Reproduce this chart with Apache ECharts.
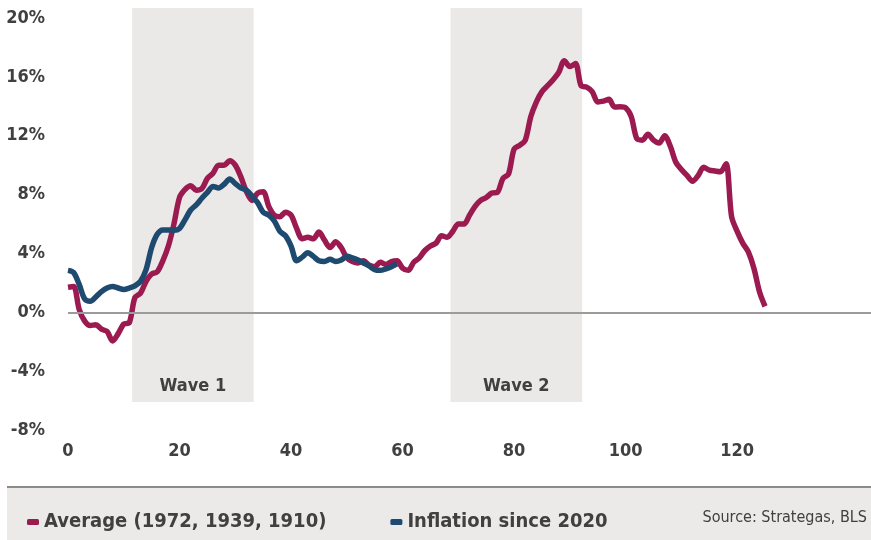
<!DOCTYPE html>
<html>
<head>
<meta charset="utf-8">
<script src="https://cdn.jsdelivr.net/npm/echarts@6/dist/echarts.min.js"></script>
<style>
  html, body { margin: 0; padding: 0; background: #fff; }
  #chart { width: 871px; height: 540px; }
</style>
</head>
<body>
<div id="chart"></div>
<script>
// months since start of the inflation wave
var avgX = [0,1,2,3,4,5,6,7,8,9,10,11,12,13,14,15,16,17,18,19,20,21,22,23,24,25,26,27,28,29,30,31,32,33,34,35,36,37,38,39,40,41,42,43,44,45,46,47,48,49,50,51,52,53,54,55,56,57,58,59,60,61,62,63,64,65,66,67,68,69,70,71,72,73,74,75,76,77,78,79,80,81,82,83,84,85,86,87,88,89,90,91,92,93,94,95,96,97,98,99,100,101,102,103,104,105,106,107,108,109,110,111,112,113,114,115,116,117,118,119,120,121,122,123,124,125];
var avgY = [1.7,1.75,0.2,-0.6,-0.9,-0.85,-1.15,-1.3,-1.95,-1.45,-0.8,-0.7,1.0,1.3,2.1,2.6,2.75,3.5,4.5,6.0,7.8,8.35,8.6,8.3,8.4,9.1,9.45,10.0,10.0,10.3,10.0,9.2,8.2,7.6,8.1,8.2,7.2,6.6,6.5,6.8,6.6,5.7,5.0,5.1,5.0,5.45,4.9,4.4,4.8,4.4,3.7,3.45,3.35,3.5,3.2,3.1,3.4,3.25,3.45,3.5,3.0,2.85,3.4,3.7,4.2,4.5,4.7,5.2,5.1,5.5,6.0,6.0,6.6,7.2,7.6,7.8,8.1,8.15,9.1,9.4,11.1,11.35,11.7,13.3,14.3,15.0,15.4,15.8,16.3,17.1,16.7,16.9,15.4,15.3,15.0,14.3,14.35,14.47,13.95,13.97,13.9,13.3,11.8,11.7,12.1,11.7,11.5,12.0,11.3,10.2,9.7,9.3,8.9,9.3,9.85,9.66,9.6,9.55,10.1,6.5,5.5,4.7,4.1,3.0,1.4,0.4];
var infX = [0,1,2,3,4,5,6,7,8,9,10,11,12,13,14,15,16,17,18,19,20,21,22,23,24,25,26,27,28,29,30,31,32,33,34,35,36,37,38,39,40,41,42,43,44,45,46,47,48,49,50,51,52,53,54,55,56,57,58,59];
var infY = [2.85,2.7,1.9,0.9,0.75,1.05,1.4,1.65,1.75,1.65,1.55,1.65,1.8,2.1,2.9,4.4,5.3,5.6,5.6,5.58,5.7,6.3,6.95,7.3,7.75,8.15,8.55,8.45,8.7,9.05,8.75,8.45,8.3,7.9,7.45,6.8,6.6,6.2,5.5,5.2,4.5,3.5,3.75,4.05,3.8,3.5,3.45,3.6,3.45,3.55,3.8,3.7,3.55,3.35,3.15,2.9,2.85,2.95,3.1,3.3];
var waveNames = ['Wave 1', 'Wave 2'];
var waveStart = [11.5, 68.6];
var waveEnd = [33.3, 92.2];
var seriesNames = ['Average (1972, 1939, 1910)', 'Inflation since 2020'];

var font = "'Liberation Sans Narrow', 'DejaVu Sans Condensed', sans-serif";
var textColor = '#404040';
var yTop = 20.68;   // shaded bands reach a bit above the 20% tick

function pairs(xs, ys) {
    return xs.map(function (x, i) { return [x, ys[i]]; });
}

var waveAreas = waveNames.map(function (name, i) {
    return [
        { name: name, coord: [waveStart[i], -6.1] },
        { coord: [waveEnd[i], yTop] }
    ];
});

var chart = echarts.init(document.getElementById('chart'));
chart.setOption({
    animation: false,
    textStyle: { fontFamily: font },
    grid: { left: 68, right: 0, top: 8, bottom: 110 },
    xAxis: {
        type: 'value',
        min: 0,
        max: 144,
        interval: 20,
        axisLine: { show: false },
        axisTick: { show: false },
        splitLine: { show: false },
        axisLabel: {
            margin: 12,
            fontSize: 18,
            fontWeight: 'bold',
            color: textColor,
            fontFamily: font,
            showMaxLabel: false,
            formatter: function (v) { return (v % 20 === 0 && v <= 120) ? v : ''; }
        }
    },
    yAxis: {
        type: 'value',
        min: -8,
        max: yTop,
        interval: 4,
        axisLine: { show: false },
        axisTick: { show: false },
        splitLine: { show: false },
        axisLabel: {
            margin: 23,
            fontSize: 18,
            fontWeight: 'bold',
            color: textColor,
            fontFamily: font,
            showMaxLabel: false,
            formatter: function (v) { return v % 4 === 0 ? v + '%' : ''; }
        }
    },
    legend: {
        left: 22,
        top: 507,
        itemGap: 64,
        itemWidth: 12,
        itemHeight: 6,
        icon: 'roundRect',
        textStyle: { fontSize: 20, fontWeight: 'bold', color: textColor, fontFamily: font },
        data: seriesNames
    },
    graphic: [
        { type: 'rect', shape: { x: 7, y: 488, width: 864, height: 52 }, style: { fill: '#ebeae8' }, z: -10 },
        { type: 'rect', shape: { x: 7, y: 486, width: 864, height: 2 }, style: { fill: '#8e8a86' }, z: -10 },
        {
            type: 'text', right: 4, top: 510,
            style: { text: 'Source: Strategas, BLS', fontSize: 16, fill: textColor, fontFamily: font }
        }
    ],
    series: [
        {
            type: 'line',
            name: 'shade',
            data: [],
            z: -1,
            silent: true,
            markArea: {
                silent: true,
                itemStyle: { color: '#ebe9e7' },
                label: {
                    show: true,
                    position: 'insideBottom',
                    distance: 7,
                    fontSize: 18,
                    fontWeight: 'bold',
                    color: textColor,
                    fontFamily: font
                },
                data: waveAreas
            }
        },
        {
            type: 'line',
            name: 'zero',
            data: [],
            z: 1,
            silent: true,
            markLine: {
                silent: true,
                symbol: ['none', 'none'],
                label: { show: false },
                lineStyle: { color: '#9b9b9b', width: 2, type: 'solid' },
                data: [{ yAxis: 0 }]
            }
        },
        {
            type: 'line',
            name: seriesNames[0],
            data: pairs(avgX, avgY),
            showSymbol: false,
            smooth: 0.3,
            color: '#9b1b50',
            lineStyle: { width: 5.5, color: '#9b1b50' },
            emphasis: { disabled: true }
        },
        {
            type: 'line',
            name: seriesNames[1],
            data: pairs(infX, infY),
            showSymbol: false,
            smooth: 0.3,
            color: '#1f4a70',
            lineStyle: { width: 5.5, color: '#1f4a70' },
            emphasis: { disabled: true }
        }
    ]
});
</script>
</body>
</html>
